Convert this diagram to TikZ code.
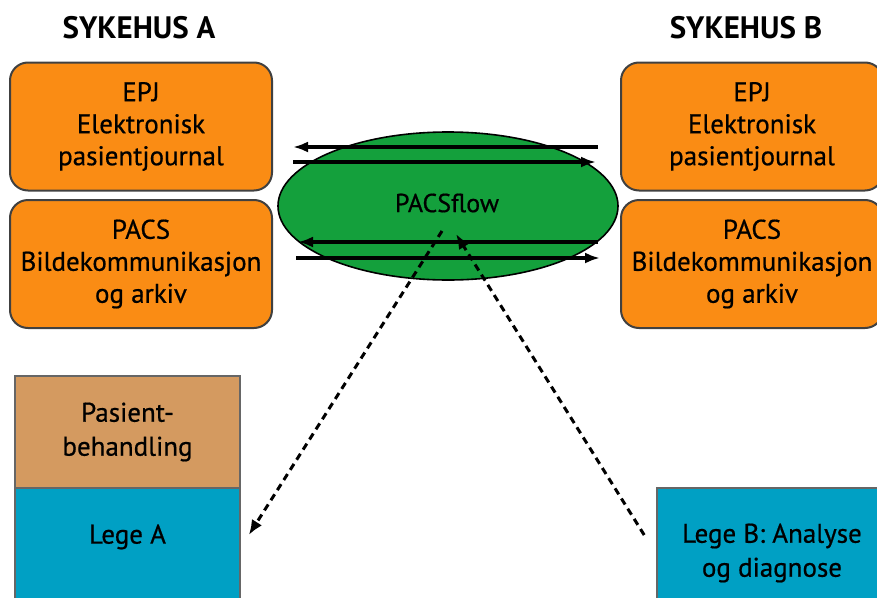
\documentclass[tikz,border=0pt]{standalone}
\usepackage{fontspec}
\setmainfont{PT Sans}
\newfontfamily\boxfont{PT Sans}[FakeBold=0.6]
\usetikzlibrary{shapes.geometric,calc,arrows.meta}

\definecolor{boxorange}{RGB}{250,140,20}
\definecolor{flowgreen}{RGB}{20,160,60}
\definecolor{careTan}{RGB}{212,154,96}
\definecolor{doctorBlue}{RGB}{0,160,196}

\begin{document}
\begin{tikzpicture}[x=1pt,y=-1pt]

		\tikzset{
		  sysbox/.style={
			draw=black!75,
			fill=boxorange,
			rounded corners=18pt,
			line width=2pt,
			minimum width=262pt,
			minimum height=128pt,
			align=center,
			font=\boxfont\fontsize{27}{32}\selectfont,
		  },
		  flatbox/.style={
			draw=black!60,
			line width=1.6pt,
			minimum width=225pt,
			align=center,
			font=\boxfont\fontsize{27}{34}\selectfont,
		  },
		  title/.style={font=\fontsize{31}{34}\selectfont\bfseries},
		  flow/.style={line width=3.2pt,-{Latex[length=15pt,width=11pt]}},
		  request/.style={line width=3pt,dash pattern=on 7pt off 5pt,-{Latex[length=15pt,width=12pt]}},
		}
		\useasboundingbox (0,0) rectangle (877,597);
		\clip (0,0) rectangle (877,597);

		% headings
		\node[title] (titleA) at (139,28) {SYKEHUS A};
		\node[title] (titleB) at (746,28) {SYKEHUS B};

		% systems at each hospital
		\node[sysbox] (epjA) at (141,126.5) {EPJ\\Elektronisk\\pasientjournal};
		\node[sysbox] (pacsA) at (141,264) {PACS\\Bildekommunikasjon\\og arkiv};
		\node[sysbox] (epjB) at (752,126.5) {EPJ\\Elektronisk\\pasientjournal};
		\node[sysbox] (pacsB) at (752,264) {PACS\\Bildekommunikasjon\\og arkiv};

		% the exchange in between
		\node[ellipse,draw=black,line width=1.6pt,fill=flowgreen,minimum width=340pt,minimum height=148pt] (flow) at (448,206) {};
		\node[font=\boxfont\fontsize{26}{28}\selectfont] (flowtext) at (447,203) {PACSflow};

		\draw[flow] ($(epjB.west)+(-22,20.5)$) -- ($(epjA.east)+(20,20.5)$);
		\draw[flow] ($(epjA.east)+(20,35.5)$) -- ($(epjB.west)+(-24,35.5)$);
		\draw[flow] ($(pacsB.west)+(-22,-22)$) -- ($(pacsA.east)+(25,-22)$);
		\draw[flow] ($(pacsA.east)+(23,-6)$) -- ($(pacsB.west)+(-20,-6)$);

		% doctors
		\node[flatbox,fill=careTan,minimum height=112pt] (care) at (127.5,432) {Pasient-\\behandling};
		\node[flatbox,fill=doctorBlue,minimum height=130pt,text depth=38pt] (legeA) at (127.5,553) {Lege A};
		\node[flatbox,fill=doctorBlue,minimum width=230pt,minimum height=130pt] (legeB) at (772,553) {Lege B: Analyse\\og diagnose};

		\coordinate (outA) at (442,231);
		\coordinate (inB) at (456,234);
		\draw[request] (outA) -- ($(legeA.east)+(8,-18)$);
		\draw[request] ($(legeB.west)+(-12,-18)$) -- (inB);

\end{tikzpicture}
\end{document}
